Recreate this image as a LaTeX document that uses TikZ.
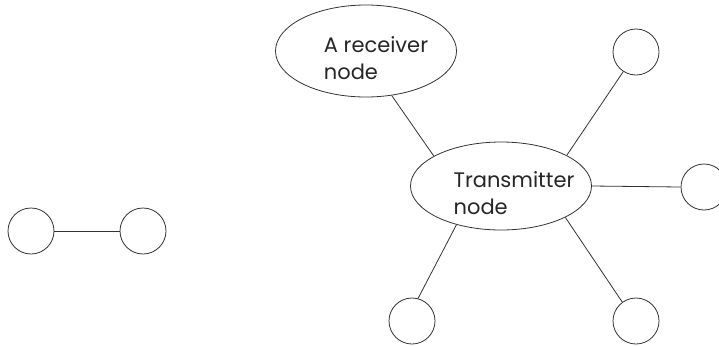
\documentclass[tikz,border=0pt]{standalone}
\usepackage{fontspec}
\setmainfont{Poppins}
\usetikzlibrary{shapes.geometric}
\tikzset{
    peer/.style={draw=black!80, line width=0.8pt, circle, minimum size=46pt, inner sep=0pt},
    hub/.style={draw=black!80, line width=0.8pt, ellipse, minimum width=181pt, minimum height=88pt, inner sep=0pt},
    lbl/.style={align=left, inner sep=0pt, font=\fontsize{21}{27}\selectfont, text=black!85},
    link/.style={draw=black!80, line width=0.8pt}
}

\begin{document}
\begin{tikzpicture}[x=1pt, y=-1pt]
    \useasboundingbox (0,0) rectangle (719,346);
    % pair on the left
    \node[peer] (p1) at (31,231) {};
    \node[peer] (p2) at (143,231) {};
    \draw[link] (p1.east) -- (p2.west);
    % star around the transmitter
    \node[hub] (tx) at (501,186) {};
    \node[hub, minimum height=92pt] (rx) at (366,51) {};
    \node[lbl] (txtext) at (514,193) {Transmitter\\node};
    \node[lbl] (rxtext) at (376,58) {A receiver\\node};
    \node[peer] (n1) at (636,52) {};
    \node[peer] (n2) at (704,187) {};
    \node[peer] (n3) at (412,321) {};
    \node[peer] (n4) at (636,321) {};
    \draw[link] (rx.300) -- (tx.156);
    \draw[link] (tx.25) -- (n1.237);
    \draw[link] (tx.0) -- (n2.180);
    \draw[link] (tx.221) -- (n3.75);
    \draw[link] (tx.334) -- (n4.126);
\end{tikzpicture}
\end{document}
